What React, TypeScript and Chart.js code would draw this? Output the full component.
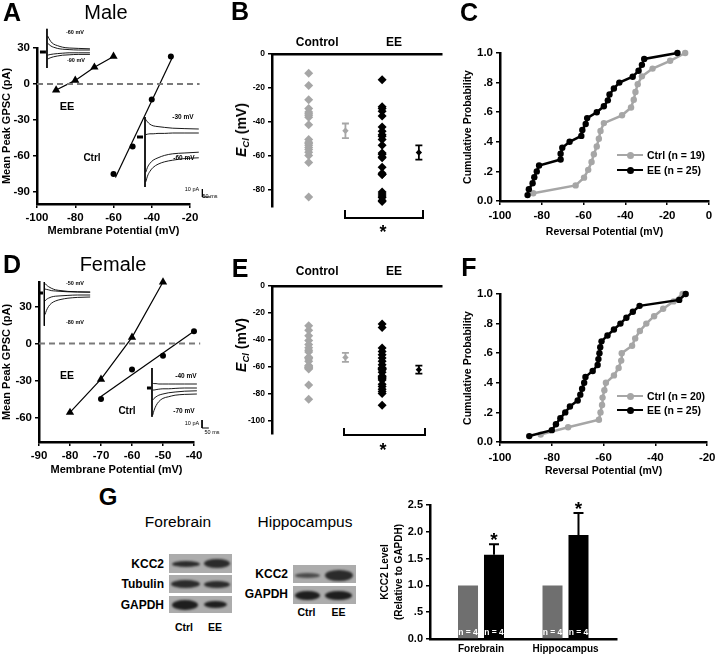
import React, { useEffect, useRef } from 'react';
import { Chart, registerables } from 'chart.js';

Chart.register(...registerables);

const FONT = "'Liberation Sans', Arial, Helvetica, sans-serif";
Chart.defaults.font.family = FONT;
Chart.defaults.color = '#000';

const BLACK = '#000000';
const GRAY = '#a6a6a6';
const BAR_GRAY = '#6f6f6f';
const ZERO_GRAY = '#7a7a7a';

/* ---------------- Panel A : male I-V ---------------- */
const maleIvEEVolt = [-90, -80, -70, -60];
const maleIvEEGpsc = [-5, 3, 14, 23];
const maleIvCtrlVolt = [-60, -50, -40, -30];
const maleIvCtrlGpsc = [-75, -52, -13, 23];
const maleIvCtrlFitVolt = [-59, -29];
const maleIvCtrlFitGpsc = [-78, 23];
const maleIvZeroVolt = [-100, -15];
const maleIvXTicks = [-100, -80, -60, -40, -20];
const maleIvYTicks = [30, 0, -30, -60, -90];

/* ---------------- Panel D : female I-V ---------------- */
const femaleIvEEVolt = [-80, -70, -60, -50];
const femaleIvEEGpsc = [-56, -29, 5, 50];
const femaleIvCtrlVolt = [-70, -60, -50, -40];
const femaleIvCtrlGpsc = [-45, -21, -10, 10];
const femaleIvCtrlFitVolt = [-70, -40];
const femaleIvCtrlFitGpsc = [-43, 10];
const femaleIvZeroVolt = [-90, -38];
const femaleIvXTicks = [-90, -80, -70, -60, -50, -40];
const femaleIvYTicks = [30, 0, -30, -60];

/* ---------------- Panels B/C : male reversal potentials (mV) ---------------- */
const maleCtrlErev = [-84.1, -63.8, -59.8, -57.8, -56.2, -55.1, -53.7, -52.7, -51.9, -50.3, -41.6, -37.3, -36.0, -35.2, -34.1, -32.1, -27.0, -18.6, -11.4];
const maleEEErev = [-86.8, -86.2, -84.4, -83.6, -82.4, -81.3, -71.0, -71.0, -70.2, -66.7, -61.1, -60.6, -59.0, -58.3, -53.7, -50.3, -48.4, -47.6, -45.5, -42.9, -36.5, -33.7, -32.1, -31.0, -15.1];
const maleGroupMeans = [-45.2, -58.0];
const maleGroupSems = [4.3, 4.2];

/* ---------------- Panels E/F : female reversal potentials (mV) ---------------- */
const femaleCtrlErev = [-84.3, -73.7, -61.8, -61.2, -60.6, -60.4, -59.7, -59.1, -56.0, -54.2, -53.2, -53.0, -49.0, -47.8, -46.0, -43.5, -40.5, -37.0, -33.0, -29.5];
const femaleEEErev = [-88.7, -80.0, -78.4, -76.7, -74.8, -73.0, -70.0, -69.0, -68.3, -67.5, -67.0, -64.2, -62.3, -62.0, -61.6, -61.3, -60.8, -58.5, -56.0, -53.5, -51.2, -48.7, -46.1, -30.8, -28.3];
const femaleGroupMeans = [-53.1, -62.2];
const femaleGroupSems = [3.3, 3.0];

const groupLabels = ['Control', 'EE'];
const groupX = [1, 3];
const meanX = [2, 4];
const groupLabelX = [1.23, 3.32];
const maleErevYTicks = [0, -20, -40, -60, -80];
const femaleErevYTicks = [0, -20, -40, -60, -80, -100];
const maleCdfXTicks = [-100, -80, -60, -40, -20, 0];
const femaleCdfXTicks = [-100, -80, -60, -40, -20];
const cdfYTicks = [0, 0.2, 0.4, 0.6, 0.8, 1.0];

/* ---------------- Panel G : KCC2 level ---------------- */
const kccRegions = ['Forebrain', 'Hippocampus'];
const kccX = [1, 2];
const kccCtrl = [1.0, 1.0];
const kccEE = [1.57, 1.94];
const kccEESem = [0.2, 0.41];
const kccN = [4, 4];
const kccYTicks = [0, 0.5, 1.0, 1.5, 2.0, 2.5];

/* ---------------- inset current traces (ms, pA) ---------------- */
const insetTimes = [5, 15, 30, 50, 80, 120, 170, 240, 330];
const maleEEInsetTraces = [
  [20, 17, 13, 10, 8, 6, 5, 4.5, 4],
  [11, 9.5, 7.5, 6, 4.5, 3.5, 3, 2.5, 2.5],
  [-4, -3.5, -3, -2.5, -2, -1.5, -1, -1, -1],
  [-9, -8, -7, -6, -5, -4, -3.5, -3, -3],
];
const maleCtrlInsetTraces = [
  [22, 19, 16, 14, 13, 12, 11, 10.5, 10],
  [3, 3.5, 4, 4, 4.5, 4.5, 5, 5, 5],
  [-44, -38, -33, -29, -26, -23, -21, -20, -19],
  [-56, -49, -43, -38, -34, -31, -29, -27, -26],
];
const femaleEEInsetTraces = [
  [12, 10, 8, 6, 4, 3, 2, 1.5, 1.2],
  [5, 4.5, 4, 3, 2.5, 2, 1.5, 1.2, 1],
  [-10, -8, -6.5, -5, -4, -3.5, -3, -2.5, -2.5],
  [-27, -22, -17, -13, -10, -8, -6.5, -5.5, -5],
];
const femaleCtrlInsetTraces = [
  [6, 5.5, 5.5, 5, 5, 5, 5, 5, 5],
  [-2.5, -2.5, -2, -1.5, -1, -1, -0.5, 0, 0],
  [-15, -13, -11, -9, -7.5, -6, -5, -4, -3.5],
  [-34, -28, -22, -17, -13, -11, -9, -8, -7.5],
];

/* ---------------- helpers ---------------- */
type Rect = { x: number; y: number; w: number; h: number };
type Area = { l: number; t: number; r: number; b: number };

const zip = (xs: number[], ys: number[]) => xs.map((x, i) => ({ x, y: ys[i] }));

function frameBottom(c: Rect, a: Area) {
  return { padding: { left: 0, top: a.t - c.y, right: c.x + c.w - a.r, bottom: 0 }, yW: a.l - c.x, xH: c.y + c.h - a.b };
}
function frameTop(c: Rect, a: Area) {
  return { padding: { left: 0, top: 0, right: c.x + c.w - a.r, bottom: c.y + c.h - a.b }, yW: a.l - c.x, xH: a.t - c.y };
}

function linAxis(o: any) {
  return {
    type: 'linear',
    position: o.position,
    min: o.min,
    max: o.max,
    offset: false,
    afterBuildTicks: (s: any) => { s.ticks = o.ticks.map((v: number) => ({ value: v })); },
    afterFit: (s: any) => { if (o.w != null) s.width = o.w; if (o.h != null) s.height = o.h; },
    ticks: {
      font: { family: FONT, size: o.size, weight: 'bold' },
      color: '#000',
      padding: o.pad,
      autoSkip: false,
      maxRotation: 0,
      minRotation: 0,
      callback: o.fmt || ((v: any) => String(v)),
    },
    grid: { display: true, offset: false, drawOnChartArea: false, drawTicks: !o.noTicks, tickLength: 4, tickWidth: 1.5, tickColor: '#000', color: '#000', lineWidth: 1.5 },
    border: { display: true, color: '#000', width: 2.5 },
    title: o.title
      ? { display: true, text: o.title, color: '#000', padding: 0, font: { family: FONT, size: o.titleSize, weight: 'bold', lineHeight: o.titleLH || 1.2 } }
      : { display: false },
  };
}

function baseOpts(padding: any, scales: any) {
  return {
    responsive: false,
    maintainAspectRatio: false,
    animation: false,
    devicePixelRatio: 1,
    events: [],
    layout: { padding },
    plugins: { legend: { display: false }, tooltip: { enabled: false } },
    scales,
  };
}

const lineDs = (pts: any[], color: string, width: number, dash: number[] = []) => ({
  data: pts, showLine: true, borderColor: color, borderWidth: width, borderDash: dash,
  pointRadius: 0, clip: false, tension: 0,
});
const marksDs = (pts: any[], color: string, style: string, r: number, lineW: number) => ({
  data: pts, showLine: lineW > 0, borderColor: color, borderWidth: lineW, pointStyle: style,
  pointRadius: r, pointBackgroundColor: color, pointBorderColor: color, pointBorderWidth: 0, clip: false, tension: 0,
});

/* ---------------- chart factories ---------------- */
function makeIV(rect: Rect, area: Area, d: any) {
  const f = frameBottom(rect, area);
  return {
    type: 'scatter',
    data: {
      datasets: [
        lineDs(zip(d.zeroV, d.zeroV.map(() => 0)), ZERO_GRAY, 2, [6, 4]),
        marksDs(zip(d.eeV, d.eeG), BLACK, 'triangle', 4.8, 1.2),
        lineDs(zip(d.fitV, d.fitG), BLACK, 1.2),
        marksDs(zip(d.ctrlV, d.ctrlG), BLACK, 'circle', 3, 0),
      ],
    },
    options: baseOpts(f.padding, {
      x: linAxis({ min: d.xMin, max: d.xMax, ticks: d.xTicks, size: 11.5, pad: 3, h: f.xH, title: 'Membrane Potential (mV)', titleSize: 11 }),
      y: linAxis({ min: d.yMin, max: d.yMax, ticks: d.yTicks, size: 11.5, pad: 3, w: f.yW, title: 'Mean Peak GPSC (pA)', titleSize: 11 }),
    }),
  };
}

function errPlugin(means: number[], sems: number[], xs: number[], colors: string[]) {
  return {
    id: 'meanErr',
    beforeDatasetsDraw(chart: any) {
      const { ctx } = chart;
      const sx = chart.scales.x;
      const sy = chart.scales.y;
      ctx.save();
      means.forEach((m, i) => {
        const px = sx.getPixelForValue(xs[i]);
        const top = sy.getPixelForValue(m + sems[i]);
        const bot = sy.getPixelForValue(m - sems[i]);
        ctx.strokeStyle = colors[i];
        ctx.lineWidth = 1.8;
        ctx.beginPath();
        ctx.moveTo(px, top); ctx.lineTo(px, bot);
        ctx.moveTo(px - 3.5, top); ctx.lineTo(px + 3.5, top);
        ctx.moveTo(px - 3.5, bot); ctx.lineTo(px + 3.5, bot);
        ctx.stroke();
      });
      ctx.restore();
    },
  };
}

function makeErev(rect: Rect, area: Area, d: any) {
  const f = frameTop(rect, area);
  return {
    type: 'scatter',
    data: {
      datasets: [
        marksDs(d.ctrl.map((v: number) => ({ x: groupX[0], y: v })), GRAY, 'rectRot', 4.5, 0),
        marksDs([{ x: meanX[0], y: d.means[0] }], GRAY, 'rectRot', 3.2, 0),
        marksDs(d.ee.map((v: number) => ({ x: groupX[1], y: v })), BLACK, 'rectRot', 4.5, 0),
        marksDs([{ x: meanX[1], y: d.means[1] }], BLACK, 'rectRot', 3.2, 0),
      ],
    },
    options: baseOpts(f.padding, {
      x: linAxis({ position: 'top', min: 0, max: 4.63, ticks: groupLabelX, size: 12, pad: d.labelPad, h: f.xH, noTicks: true, fmt: (_v: any, i: number) => groupLabels[i] }),
      y: linAxis({ min: d.yMin, max: 0, ticks: d.yTicks, size: 8.5, pad: 3, w: f.yW }),
    }),
    plugins: [errPlugin(d.means, d.sems, meanX, [GRAY, BLACK])],
  };
}

const fmtProb = (v: any) => { const n = Number(v); return n === 0 ? '0.0' : n === 1 ? '1.0' : '.' + Math.round(n * 10); };
const fmtLevel = (v: any) => { const n = Number(v); return n > 0 && n < 1 ? '.' + Math.round(n * 10) : n.toFixed(1); };

function makeCdf(rect: Rect, area: Area, d: any) {
  const f = frameBottom(rect, area);
  const cdf = (arr: number[]) => arr.map((v, i) => ({ x: v, y: (i + 1) / arr.length }));
  return {
    type: 'scatter',
    data: {
      datasets: [
        marksDs(cdf(d.ee), BLACK, 'circle', 3.2, 2.5),
        marksDs(cdf(d.ctrl), GRAY, 'circle', 3.2, 2.5),
      ],
    },
    options: baseOpts(f.padding, {
      x: linAxis({ min: d.xMin, max: d.xMax, ticks: d.xTicks, size: 11.5, pad: d.xPad, h: f.xH, title: 'Reversal Potential (mV)', titleSize: 10.5 }),
      y: linAxis({ min: 0, max: 1, ticks: cdfYTicks, size: 11.5, pad: 3, w: f.yW, fmt: fmtProb, title: 'Cumulative Probability', titleSize: 10.5 }),
    }),
  };
}

const kccPlugin = {
  id: 'kccExtras',
  afterDatasetsDraw(chart: any) {
    const { ctx } = chart;
    const sy = chart.scales.y;
    ctx.save();
    chart.getDatasetMeta(1).data.forEach((bar: any, i: number) => {
      const top = sy.getPixelForValue(kccEE[i] + kccEESem[i]);
      ctx.strokeStyle = '#000';
      ctx.lineWidth = 2;
      ctx.beginPath();
      ctx.moveTo(bar.x, bar.y); ctx.lineTo(bar.x, top);
      ctx.moveTo(bar.x - 5, top); ctx.lineTo(bar.x + 5, top);
      ctx.stroke();
      ctx.fillStyle = '#000';
      ctx.font = `bold 19px ${FONT}`;
      ctx.textAlign = 'center';
      ctx.textBaseline = 'alphabetic';
      ctx.fillText('*', bar.x, top + 2);
    });
    [0, 1].forEach((di) => {
      chart.getDatasetMeta(di).data.forEach((bar: any, i: number) => {
        ctx.fillStyle = '#fff';
        ctx.font = `bold 8.5px ${FONT}`;
        ctx.textAlign = 'center';
        ctx.textBaseline = 'middle';
        ctx.fillText(`n = ${kccN[i]}`, bar.x, bar.base - 6);
      });
    });
    ctx.restore();
  },
};

function makeKcc(rect: Rect, area: Area) {
  const f = frameBottom(rect, area);
  const barCommon = { borderWidth: 0, categoryPercentage: 0.615, barPercentage: 0.77 };
  return {
    type: 'bar',
    data: {
      datasets: [
        { label: 'Ctrl', data: zip(kccX, kccCtrl), backgroundColor: BAR_GRAY, ...barCommon },
        { label: 'EE', data: zip(kccX, kccEE), backgroundColor: BLACK, ...barCommon },
      ],
    },
    options: baseOpts(f.padding, {
      x: linAxis({ min: 0.3964, max: 2.6095, ticks: kccX, size: 10, pad: 4, h: f.xH, noTicks: true, fmt: (_v: any, i: number) => kccRegions[i] }),
      y: linAxis({ min: 0, max: 2.5, ticks: kccYTicks, size: 11, pad: 3, w: f.yW, fmt: fmtLevel, title: ['KCC2 Level', '(Relative to GAPDH)'], titleSize: 10, titleLH: 1.4 }),
    }),
    plugins: [kccPlugin],
  };
}

function makeInset(c: any) {
  const ds: any[] = c.traces.map((tr: number[]) => ({
    data: zip(insetTimes, tr), showLine: true, borderColor: BLACK, borderWidth: 0.9,
    pointRadius: 0, tension: 0.4, cubicInterpolationMode: 'monotone', clip: false,
  }));
  ds.push(lineDs([{ x: 0, y: c.artifact[0] }, { x: 0, y: c.artifact[1] }], BLACK, 1));
  ds.push(lineDs([{ x: c.stub[0], y: 0 }, { x: c.stub[1], y: 0 }], BLACK, 3));
  if (c.bar) {
    ds.push(lineDs([{ x: c.bar[0], y: c.bar[1] }, { x: c.bar[0], y: c.bar[1] - 10 }, { x: c.bar[0] + 50, y: c.bar[1] - 10 }], BLACK, 1));
  }
  return {
    type: 'scatter',
    data: { datasets: ds },
    options: baseOpts(0, {
      x: { type: 'linear', display: false, min: c.xMin, max: c.xMax },
      y: { type: 'linear', display: false, min: c.yMin, max: c.yMax },
    }),
  };
}

/* ---------------- layout ---------------- */
const A_RECT: Rect = { x: 0, y: 28, w: 212, h: 210 };
const A_AREA: Area = { l: 37, t: 48, r: 190, b: 204 };
const D_RECT: Rect = { x: 0, y: 272, w: 212, h: 205 };
const D_AREA: Area = { l: 39, t: 282, r: 194, b: 442 };
const B_RECT: Rect = { x: 236, y: 30, w: 214, h: 185 };
const B_AREA: Area = { l: 272, t: 54, r: 442, b: 207 };
const E_RECT: Rect = { x: 236, y: 262, w: 214, h: 180 };
const E_AREA: Area = { l: 272, t: 286, r: 442, b: 435 };
const C_RECT: Rect = { x: 462, y: 40, w: 258, h: 198 };
const C_AREA: Area = { l: 500, t: 53, r: 709, b: 201 };
const F_RECT: Rect = { x: 462, y: 282, w: 258, h: 195 };
const F_AREA: Area = { l: 500, t: 294, r: 712, b: 442 };
const G_RECT: Rect = { x: 378, y: 495, w: 247, h: 162 };
const G_AREA: Area = { l: 430, t: 505, r: 617, b: 639 };

const INSET_A_EE = { rect: { x: 38, y: 28, w: 57, h: 42 }, xMin: -69, xMax: 369, yMin: -22.5, yMax: 30, traces: maleEEInsetTraces, artifact: [29, -20], stub: [-54, -8] };
const INSET_A_CTRL = { rect: { x: 134, y: 112, w: 78, h: 88 }, xMin: -67.5, xMax: 411, yMin: -78.75, yMax: 31.25, traces: maleCtrlInsetTraces, artifact: [25, -62.5], stub: [-49, -12], bar: [352, -65] };
const INSET_D_EE = { rect: { x: 36, y: 278, w: 59, h: 52 }, xMin: -59.7, xMax: 364.8, yMin: -46.25, yMax: 18.75, traces: femaleEEInsetTraces, artifact: [13.75, -41], stub: [-45, -9] };
const INSET_D_CTRL = { rect: { x: 144, y: 364, w: 70, h: 68 }, xMin: -58.8, xMax: 455.9, yMin: -55, yMax: 30, traces: femaleCtrlInsetTraces, artifact: [25, -36], stub: [-37, -7], bar: [368, -40] };

/* ---------------- components ---------------- */
function ChartCanvas({ rect, make }: { rect: Rect; make: () => any }) {
  const ref = useRef<HTMLCanvasElement | null>(null);
  useEffect(() => {
    if (!ref.current) return;
    const chart = new Chart(ref.current, make());
    return () => chart.destroy();
  }, []);
  return (
    <canvas
      ref={ref}
      width={rect.w}
      height={rect.h}
      style={{ position: 'absolute', left: rect.x, top: rect.y, width: rect.w, height: rect.h }}
    />
  );
}

function Txt({ x, y, s, b = false, a = 'c', c = '#000', children, st = {} }: any) {
  const tx = a === 'c' ? '-50%' : a === 'r' ? '-100%' : '0';
  return (
    <div
      style={{
        position: 'absolute', left: x, top: y, transform: `translate(${tx},-50%)`,
        fontSize: s, fontWeight: b ? 700 : 400, lineHeight: 1, whiteSpace: 'nowrap',
        color: c, fontFamily: FONT, ...st,
      }}
    >
      {children}
    </div>
  );
}

function YTitleEcl({ x, y }: { x: number; y: number }) {
  return (
    <div
      style={{
        position: 'absolute', left: x, top: y, transform: 'translate(-50%,-50%) rotate(-90deg)',
        fontSize: 14, fontWeight: 700, lineHeight: 1, whiteSpace: 'nowrap', fontFamily: FONT,
      }}
    >
      <i>E</i>
      <span style={{ fontSize: 9.5, fontStyle: 'italic', position: 'relative', top: 3 }}>Cl</span> (mV)
    </div>
  );
}

function LegendRow({ x, y, color, label }: any) {
  return (
    <>
      <div style={{ position: 'absolute', left: x, top: y - 1.25, width: 26, height: 2.5, background: color }} />
      <div style={{ position: 'absolute', left: x + 9.5, top: y - 3.5, width: 7, height: 7, borderRadius: '50%', background: color }} />
      <Txt x={x + 30} y={y} s={10.5} b a="l">{label}</Txt>
    </>
  );
}

function Bracket({ l, t, w, h }: any) {
  return (
    <div style={{ position: 'absolute', left: l, top: t, width: w, height: h, borderLeft: '2px solid #000', borderRight: '2px solid #000', borderBottom: '2px solid #000', boxSizing: 'border-box' }} />
  );
}

const BLOT_BG = '#acacac';
function Box({ l, t, w, h }: any) {
  return <div style={{ position: 'absolute', left: l, top: t, width: w, height: h, background: BLOT_BG }} />;
}
function Band({ cx, cy, w, h, c = '#2b2b2b' }: any) {
  return (
    <div style={{ position: 'absolute', left: cx - w / 2, top: cy - h / 2, width: w, height: h, background: c, borderRadius: '50%', filter: 'blur(0.8px)' }} />
  );
}

export default function App() {
  return (
    <div style={{ position: 'absolute', left: 0, top: 0, width: 720, height: 657, background: '#fff', overflow: 'hidden', fontFamily: FONT, color: '#000' }}>
      {/* Panel A */}
      <ChartCanvas rect={A_RECT} make={() => makeIV(A_RECT, A_AREA, {
        xMin: -100, xMax: -20, yMin: -100, yMax: 30, xTicks: maleIvXTicks, yTicks: maleIvYTicks,
        eeV: maleIvEEVolt, eeG: maleIvEEGpsc, ctrlV: maleIvCtrlVolt, ctrlG: maleIvCtrlGpsc,
        fitV: maleIvCtrlFitVolt, fitG: maleIvCtrlFitGpsc, zeroV: maleIvZeroVolt,
      })} />
      <ChartCanvas rect={INSET_A_EE.rect} make={() => makeInset(INSET_A_EE)} />
      <ChartCanvas rect={INSET_A_CTRL.rect} make={() => makeInset(INSET_A_CTRL)} />
      <Txt x={12} y={12} s={25} b>A</Txt>
      <Txt x={106} y={12} s={20}>Male</Txt>
      <Txt x={67} y={106} s={11} b>EE</Txt>
      <Txt x={92} y={158} s={10} b>Ctrl</Txt>
      <Txt x={75} y={33} s={5.5} b>-60 mV</Txt>
      <Txt x={76} y={61} s={5.5} b>-90 mV</Txt>
      <Txt x={183} y={117} s={6.5} b>-30 mV</Txt>
      <Txt x={184} y={158} s={6.5} b>-60 mV</Txt>
      <Txt x={192} y={190} s={5.5}>10 pA</Txt>
      <Txt x={210} y={197} s={5.5}>50 ms</Txt>

      {/* Panel B */}
      <ChartCanvas rect={B_RECT} make={() => makeErev(B_RECT, B_AREA, {
        ctrl: maleCtrlErev, ee: maleEEErev, means: maleGroupMeans, sems: maleGroupSems,
        yMin: -90, yTicks: maleErevYTicks, labelPad: 4,
      })} />
      <Txt x={240} y={11} s={25} b>B</Txt>
      <YTitleEcl x={241} y={130} />
      <Bracket l={344} t={210} w={80} h={9} />
      <Txt x={383} y={232} s={18} b>*</Txt>

      {/* Panel C */}
      <ChartCanvas rect={C_RECT} make={() => makeCdf(C_RECT, C_AREA, {
        ctrl: maleCtrlErev, ee: maleEEErev, xMin: -100, xMax: 0, xTicks: maleCdfXTicks, xPad: 4,
      })} />
      <Txt x={469} y={12} s={25} b>C</Txt>
      <LegendRow x={617} y={155} color={GRAY} label={`Ctrl (n = ${maleCtrlErev.length})`} />
      <LegendRow x={617} y={170} color={BLACK} label={`EE (n = ${maleEEErev.length})`} />

      {/* Panel D */}
      <ChartCanvas rect={D_RECT} make={() => makeIV(D_RECT, D_AREA, {
        xMin: -90, xMax: -40, yMin: -80, yMax: 50, xTicks: femaleIvXTicks, yTicks: femaleIvYTicks,
        eeV: femaleIvEEVolt, eeG: femaleIvEEGpsc, ctrlV: femaleIvCtrlVolt, ctrlG: femaleIvCtrlGpsc,
        fitV: femaleIvCtrlFitVolt, fitG: femaleIvCtrlFitGpsc, zeroV: femaleIvZeroVolt,
      })} />
      <ChartCanvas rect={INSET_D_EE.rect} make={() => makeInset(INSET_D_EE)} />
      <ChartCanvas rect={INSET_D_CTRL.rect} make={() => makeInset(INSET_D_CTRL)} />
      <Txt x={12} y={264} s={25} b>D</Txt>
      <Txt x={113} y={264} s={20}>Female</Txt>
      <Txt x={67} y={375} s={10.5} b>EE</Txt>
      <Txt x={127} y={411} s={10} b>Ctrl</Txt>
      <Txt x={75} y={284} s={5.5} b>-50 mV</Txt>
      <Txt x={75} y={323} s={5.5} b>-80 mV</Txt>
      <Txt x={186} y={376} s={6.5} b>-40 mV</Txt>
      <Txt x={184} y={411} s={6.5} b>-70 mV</Txt>
      <Txt x={192} y={424} s={5.5}>10 pA</Txt>
      <Txt x={212} y={433} s={5.5}>50 ms</Txt>

      {/* Panel E */}
      <ChartCanvas rect={E_RECT} make={() => makeErev(E_RECT, E_AREA, {
        ctrl: femaleCtrlErev, ee: femaleEEErev, means: femaleGroupMeans, sems: femaleGroupSems,
        yMin: -110, yTicks: femaleErevYTicks, labelPad: 7,
      })} />
      <Txt x={240} y={268} s={25} b>E</Txt>
      <YTitleEcl x={241} y={345} />
      <Bracket l={343} t={428} w={83} h={8} />
      <Txt x={383} y={450} s={18} b>*</Txt>

      {/* Panel F */}
      <ChartCanvas rect={F_RECT} make={() => makeCdf(F_RECT, F_AREA, {
        ctrl: femaleCtrlErev, ee: femaleEEErev, xMin: -100, xMax: -20, xTicks: femaleCdfXTicks, xPad: 4.5,
      })} />
      <Txt x={469} y={267} s={25} b>F</Txt>
      <LegendRow x={617} y={396} color={GRAY} label={`Ctrl (n = ${femaleCtrlErev.length})`} />
      <LegendRow x={617} y={410} color={BLACK} label={`EE (n = ${femaleEEErev.length})`} />

      {/* Panel G */}
      <Txt x={108} y={497} s={24} b>G</Txt>
      <Txt x={178} y={522} s={15.5}>Forebrain</Txt>
      <Txt x={305} y={522} s={15.5}>Hippocampus</Txt>

      <Box l={169} t={554} w={63} h={19} />
      <Box l={169} t={575} w={63} h={18} />
      <Box l={169} t={596} w={63} h={17} />
      <Band cx={186} cy={563.5} w={28} h={6} />
      <Band cx={217} cy={563} w={26} h={9} />
      <Band cx={185.5} cy={583.5} w={29} h={8} />
      <Band cx={217} cy={584} w={26} h={7} />
      <Band cx={185} cy={604.5} w={26} h={10} c="#1e1e1e" />
      <Band cx={215.5} cy={604.5} w={23} h={7} c="#1e1e1e" />
      <Txt x={164} y={564} s={12} b a="r">KCC2</Txt>
      <Txt x={164} y={584} s={12} b a="r">Tubulin</Txt>
      <Txt x={164} y={605} s={12} b a="r">GAPDH</Txt>
      <Txt x={184} y={627} s={10.5} b>Ctrl</Txt>
      <Txt x={215} y={627} s={10.5} b>EE</Txt>

      <Box l={293} t={565} w={63} h={18} />
      <Box l={293} t={586} w={63} h={18} />
      <Band cx={307.5} cy={575} w={25} h={5} c="#4a4a4a" />
      <Band cx={339} cy={575} w={28} h={11} />
      <Band cx={307.5} cy={595} w={25} h={9} c="#1e1e1e" />
      <Band cx={338.5} cy={595} w={27} h={9} c="#1e1e1e" />
      <Txt x={288} y={574} s={12} b a="r">KCC2</Txt>
      <Txt x={288} y={594} s={12} b a="r">GAPDH</Txt>
      <Txt x={306.5} y={611.5} s={10.5} b>Ctrl</Txt>
      <Txt x={338.5} y={611.5} s={10.5} b>EE</Txt>

      <ChartCanvas rect={G_RECT} make={() => makeKcc(G_RECT, G_AREA)} />
    </div>
  );
}
